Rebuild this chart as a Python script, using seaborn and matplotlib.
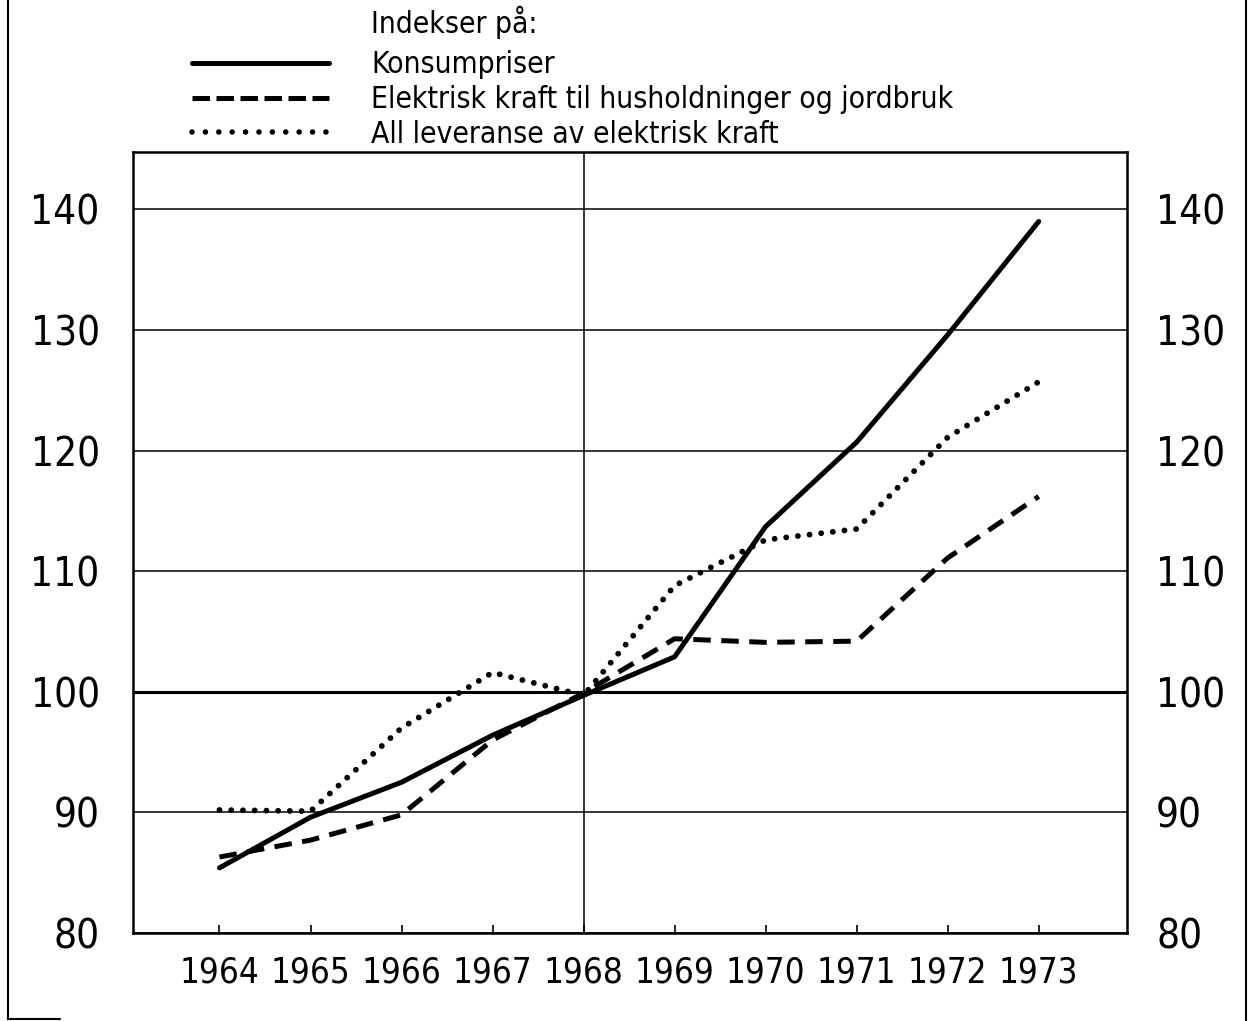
import matplotlib
matplotlib.use("Agg")
import matplotlib.pyplot as plt
from matplotlib.lines import Line2D
import seaborn as sns
import pandas as pd

years = [1964, 1965, 1966, 1967, 1968, 1969, 1970, 1971, 1972, 1973]
konsumpriser = [85.4, 89.6, 92.5, 96.4, 99.7, 102.9, 113.7, 120.7, 129.6, 139.0]
elkraft_hus = [86.3, 87.7, 89.8, 96.0, 99.9, 104.4, 104.1, 104.2, 111.1, 116.2]
all_leveranse = [90.2, 90.1, 97.0, 101.6, 99.7, 108.8, 112.6, 113.5, 121.1, 125.7]

series_names = ["Konsumpriser",
                "Elektrisk kraft til husholdninger og jordbruk",
                "All leveranse av elektrisk kraft"]
legend_title = "Indekser på:"
y_ticks = [80, 90, 100, 110, 120, 130, 140]
x_ticks = years

df = pd.concat([
    pd.DataFrame({"år": years, "indeks": konsumpriser, "serie": series_names[0]}),
    pd.DataFrame({"år": years, "indeks": elkraft_hus, "serie": series_names[1]}),
    pd.DataFrame({"år": years, "indeks": all_leveranse, "serie": series_names[2]}),
])

sns.set_theme(style="white")
plt.rcParams["font.family"] = ["DejaVu Sans"]
plt.rcParams["font.stretch"] = "condensed"
plt.rcParams["text.color"] = "black"
plt.rcParams["xtick.color"] = "black"
plt.rcParams["ytick.color"] = "black"

W, H = 1250, 1021
fig = plt.figure(figsize=(W / 100, H / 100), dpi=100)
fig.patch.set_facecolor("white")
ax = fig.add_axes([133 / W, 1 - 933 / H, 994 / W, 781 / H])

dash_map = {series_names[0]: "",
            series_names[1]: (3.5, 2.1),
            series_names[2]: (0.01, 2.0)}
sns.lineplot(data=df, x="år", y="indeks", style="serie", dashes=dash_map,
             color="black", linewidth=3.6, legend=False, ax=ax, zorder=3)
lines = ax.get_lines()
for ln in lines:
    ln.set_solid_capstyle("round")
lines[1].set_dash_capstyle("butt")
lines[2].set_dash_capstyle("round")
lines[2].set_linewidth(4.2)

ax.set_xlim(1963.05, 1973.97)
ax.set_ylim(80, 144.76)
ax.set_xlabel("")
ax.set_ylabel("")

ax.set_yticks(y_ticks)
ax.yaxis.grid(True, color="black", linewidth=1.1)
ax.xaxis.grid(False)
ax.axhline(100, color="black", linewidth=2.2, zorder=2)
ax.axvline(1968, color="black", linewidth=1.1, zorder=2)
ax.set_axisbelow(True)

ax.set_xticks(x_ticks)
ax.set_xticklabels([str(y) for y in x_ticks])
ax.tick_params(axis="x", direction="in", length=6, width=1.2, color="black",
               pad=16, labelsize=25, bottom=True, labelcolor="black")
ax.tick_params(axis="y", length=0, pad=24, labelsize=29, left=True, labelcolor="black")
for s in ax.spines.values():
    s.set_color("black")
    s.set_linewidth(1.8)

ax2 = ax.twinx()
ax2.set_ylim(ax.get_ylim())
ax2.set_yticks(y_ticks)
ax2.set_yticklabels([str(v) for v in y_ticks])
ax2.tick_params(axis="y", length=0, pad=21, labelsize=29, labelcolor="black")
ax2.grid(False)
for s in ax2.spines.values():
    s.set_visible(False)

handles = [
    Line2D([], [], color="black", linewidth=3.6, linestyle="-", solid_capstyle="round"),
    Line2D([], [], color="black", linewidth=3.6, linestyle=(0, (3.5, 1.3)), dash_capstyle="butt"),
    Line2D([], [], color="black", linewidth=4.0, linestyle=(0, (0.01, 2.4)), dash_capstyle="round"),
]
fig.legend(handles, series_names, loc="upper left",
           bbox_to_anchor=(192 / W, 1 - 50 / H), bbox_transform=fig.transFigure,
           frameon=False, fontsize=21.5, handlelength=4.6, handletextpad=1.4,
           labelspacing=0.2, borderpad=0, borderaxespad=0)
fig.text(371 / W, 1 - 22 / H, legend_title, fontsize=21.5, va="center", ha="left")

fig.add_artist(Line2D([8 / W, 8 / W], [1 - 1019 / H, 1], transform=fig.transFigure,
                      color="black", linewidth=1.5))
fig.add_artist(Line2D([1245.5 / W, 1245.5 / W], [0, 1], transform=fig.transFigure,
                      color="black", linewidth=1.5))
fig.add_artist(Line2D([8 / W, 60 / W], [1 - 1019 / H, 1 - 1019 / H], transform=fig.transFigure,
                      color="black", linewidth=1.5))

fig.savefig("out.png", dpi=100)
